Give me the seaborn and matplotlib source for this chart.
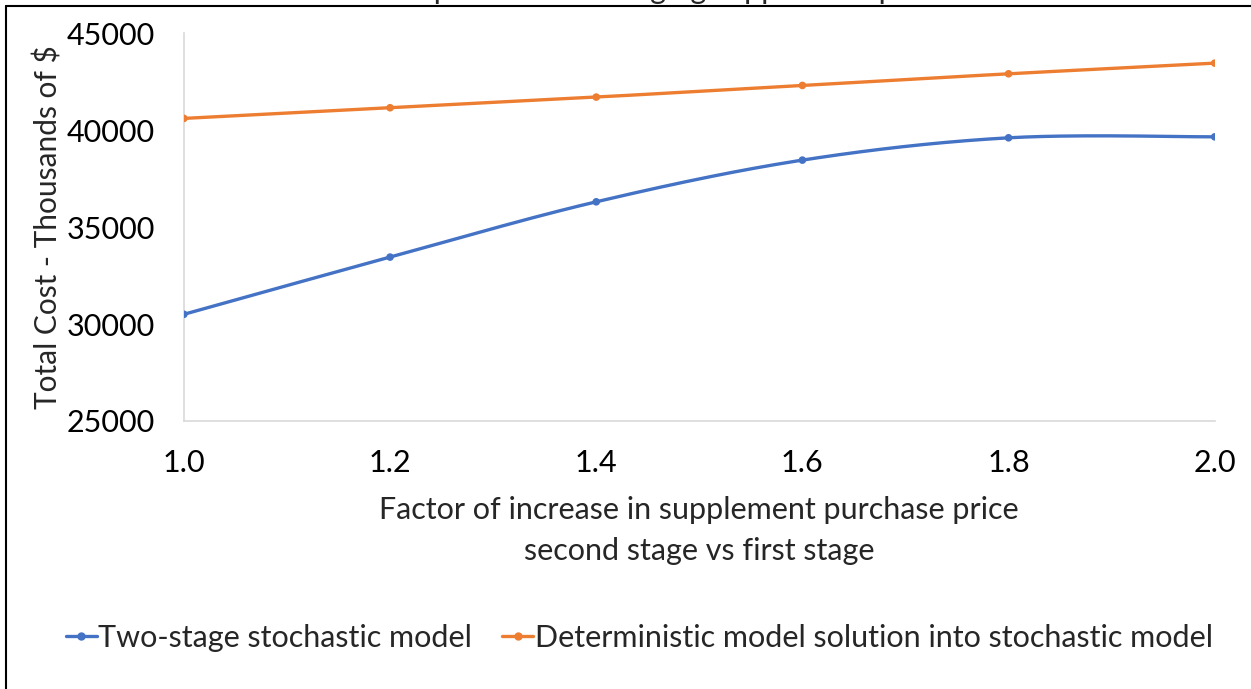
import numpy as np
import pandas as pd
import matplotlib
matplotlib.use("Agg")
import matplotlib.pyplot as plt
from matplotlib.lines import Line2D
import seaborn as sns

# Data
factors = [1.0, 1.2, 1.4, 1.6, 1.8, 2.0]
two_stage = [30500, 33450, 36300, 38450, 39600, 39650]
deterministic = [40600, 41150, 41700, 42300, 42900, 43450]
series_names = ["Two-stage stochastic model",
                "Deterministic model solution into stochastic model"]
y_ticks = [25000, 30000, 35000, 40000, 45000]
x_ticks = [1.0, 1.2, 1.4, 1.6, 1.8, 2.0]
title = "Total cost comparison for changing supplement price ratio"
x_label = "Factor of increase in supplement purchase price\nsecond stage vs first stage"
y_label = "Total Cost - Thousands of $"

colors = ["#4472C4", "#ED7D31"]

sns.set_theme(style="white")
plt.rcParams["font.family"] = ["Lato", "DejaVu Sans"]

df = pd.DataFrame({
    "factor": factors * 2,
    "cost": two_stage + deterministic,
    "series": [series_names[0]] * len(factors) + [series_names[1]] * len(factors),
})


def smooth_path(x, y, n=40, tension=1 / 6):
    """Piecewise cubic Bezier through the points (spreadsheet-style smoothing)."""
    x = np.asarray(x, float)
    y = np.asarray(y, float)
    px = np.concatenate([[x[0]], x, [x[-1]]])
    py = np.concatenate([[y[0]], y, [y[-1]]])
    xs, ys = [], []
    t = np.linspace(0, 1, n)
    for i in range(1, len(px) - 2):
        p0 = np.array([px[i], py[i]])
        p3 = np.array([px[i + 1], py[i + 1]])
        p1 = p0 + tension * (np.array([px[i + 1], py[i + 1]]) - np.array([px[i - 1], py[i - 1]]))
        p2 = p3 - tension * (np.array([px[i + 2], py[i + 2]]) - np.array([px[i], py[i]]))
        b = ((1 - t) ** 3)[:, None] * p0 + (3 * (1 - t) ** 2 * t)[:, None] * p1 \
            + (3 * (1 - t) * t ** 2)[:, None] * p2 + (t ** 3)[:, None] * p3
        xs.append(b[:, 0])
        ys.append(b[:, 1])
    return np.concatenate(xs), np.concatenate(ys)


FS = 22

fig = plt.figure(figsize=(12.51, 6.89), dpi=100)
ax = fig.add_axes([0.147, 0.389, 0.824, 0.563])

for name, col in zip(series_names, colors):
    sub = df[df["series"] == name]
    sx, sy = smooth_path(sub["factor"], sub["cost"])
    ax.plot(sx, sy, color=col, lw=2.4, solid_capstyle="round", zorder=2)

sns.scatterplot(data=df, x="factor", y="cost", hue="series", palette=colors,
                s=30, edgecolor="none", legend=False, ax=ax, zorder=3)

ax.set_xlim(1.0, 2.0)
ax.set_ylim(25000, 45000)
ax.set_xticks(x_ticks)
ax.set_xticklabels([f"{v:.1f}" for v in x_ticks])
ax.set_yticks(y_ticks)
ax.set_yticklabels([str(v) for v in y_ticks])
ax.tick_params(axis="both", labelsize=FS, colors="black", length=0)
ax.tick_params(axis="x", pad=20)
ax.tick_params(axis="y", pad=21)

for side in ["top", "right"]:
    ax.spines[side].set_visible(False)
for side in ["left", "bottom"]:
    ax.spines[side].set_color("#D9D9D9")
    ax.spines[side].set_linewidth(1.2)

ax.set_xlabel(x_label, fontsize=FS, labelpad=14, linespacing=1.55)
ax.set_ylabel(y_label, fontsize=FS - 0.5)
ax.yaxis.set_label_coords(-0.118, 0.5)

handles = [Line2D([0], [0], color=c, lw=2.4, marker="o", markersize=5)
           for c in colors]
fig.legend(handles, series_names, loc="center", bbox_to_anchor=(0.511, 1 - 638 / 689),
           ncol=2, frameon=False, fontsize=FS, handlelength=1.0, handletextpad=0.05,
           columnspacing=1.0)

# chart frame and clipped title
fig.add_artist(Line2D([6 / 1251, 1.0], [1 - 6 / 689, 1 - 6 / 689],
                      transform=fig.transFigure, color="black", lw=1.5))
fig.add_artist(Line2D([6 / 1251, 6 / 1251], [0, 1 - 6 / 689],
                      transform=fig.transFigure, color="black", lw=1.5))
fig.text(0.5, 1 + 1 / 689, title, ha="center", va="baseline", fontsize=FS)

fig.savefig("out.png", dpi=100)
